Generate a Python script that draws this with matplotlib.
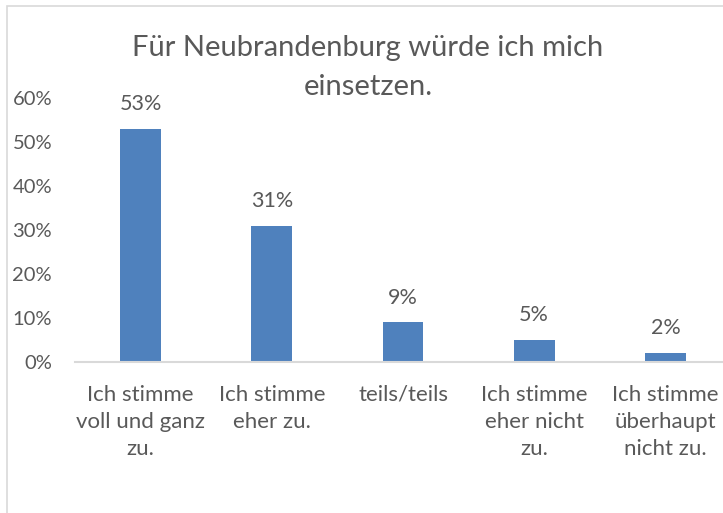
import matplotlib
matplotlib.use("Agg")
import matplotlib.pyplot as plt
from matplotlib.patches import Rectangle

categories = ["Ich stimme\nvoll und ganz\nzu.", "Ich stimme\neher zu.", "teils/teils",
              "Ich stimme\neher nicht\nzu.", "Ich stimme\nüberhaupt\nnicht zu."]
values = [0.53, 0.31, 0.09, 0.05, 0.02]
value_labels = ["53%", "31%", "9%", "5%", "2%"]
yticks = [0, 0.1, 0.2, 0.3, 0.4, 0.5, 0.6]
ytick_labels = ["0%", "10%", "20%", "30%", "40%", "50%", "60%"]
title_lines = ["Für Neubrandenburg würde ich mich", "einsetzen."]

W, H = 723, 513
TXT = "#595959"
GRID = "#D9D9D9"
BAR = "#4F81BD"
FONT = "Lato"

fig = plt.figure(figsize=(W / 100, H / 100), dpi=100)
fig.patch.set_facecolor("white")

# chart border (only left/top visible)
fig.add_artist(Rectangle((7 / W, -0.1), 1.2, (H - 6) / H + 0.1, transform=fig.transFigure,
                         fill=False, edgecolor=GRID, linewidth=1.2))

ax = fig.add_axes([75 / W, (H - 362) / H, 656 / W, (362 - 98) / H])
x = list(range(len(categories)))
ax.bar(x, values, width=0.31, color=BAR, zorder=2)
ax.set_xlim(-0.5, len(categories) - 0.5)
ax.set_ylim(0, 0.6)
ax.set_yticks(yticks)
ax.set_yticklabels(ytick_labels)
ax.set_xticks(x)
ax.set_xticklabels(categories, linespacing=1.45)

for s in ["top", "right", "left"]:
    ax.spines[s].set_visible(False)
ax.spines["bottom"].set_color(GRID)
ax.spines["bottom"].set_linewidth(1.5)
ax.spines["bottom"].set_clip_on(False)

ax.tick_params(axis="both", length=0, colors=TXT)
ax.tick_params(axis="y", pad=16.5, labelsize=14.5)
ax.tick_params(axis="x", pad=16.5, labelsize=16)
for lbl in ax.get_xticklabels() + ax.get_yticklabels():
    lbl.set_fontfamily(FONT)
    lbl.set_color(TXT)

for xi, v, t in zip(x, values, value_labels):
    ax.annotate(t, (xi, v), xytext=(0, 13.5), textcoords="offset points",
                ha="center", va="baseline", fontsize=15.5, color=TXT, family=FONT)

fig.text(368 / W, (H - 56) / H, title_lines[0], ha="center", va="baseline",
         fontsize=21, color=TXT, family=FONT)
fig.text(368 / W, (H - 95) / H, title_lines[1], ha="center", va="baseline",
         fontsize=21, color=TXT, family=FONT)

fig.savefig("out.png", dpi=100, facecolor="white")
